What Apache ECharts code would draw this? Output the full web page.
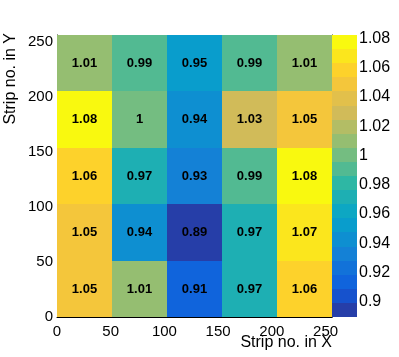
<!DOCTYPE html>
<html><head><meta charset="utf-8">
<script src="https://cdn.jsdelivr.net/npm/echarts@6/dist/echarts.min.js"></script>
<style>html,body{margin:0;padding:0;background:#fff}#c{width:399px;height:357px}</style>
</head><body><div id="c"></div>
<script>
// ---- data ----
const xEdges = [0, 51.2, 102.4, 153.6, 204.8, 256];
const yEdges = [0, 51.2, 102.4, 153.6, 204.8, 256];
// rows listed from bottom (y bin 0) to top (y bin 4)
const row0 = [1.05, 1.01, 0.91, 0.97, 1.06];
const row1 = [1.05, 0.94, 0.89, 0.97, 1.07];
const row2 = [1.06, 0.97, 0.93, 0.99, 1.08];
const row3 = [1.08, 1, 0.94, 1.03, 1.05];
const row4 = [1.01, 0.99, 0.95, 0.99, 1.01];
const xTickLabels = [0, 50, 100, 150, 200, 250];
const yTickLabels = [0, 50, 100, 150, 200, 250];
const zTickLabels = [0.9, 0.92, 0.94, 0.96, 0.98, 1, 1.02, 1.04, 1.06, 1.08];
const zMin = 0.8897, zMax = 1.0822;
const nContours = 20;
const xTitle = 'Strip no. in X';
const yTitle = 'Strip no. in Y';

// ---- ROOT kBird palette ----
const stops = [0.0000, 0.1250, 0.2500, 0.3750, 0.5000, 0.6250, 0.7500, 0.8750, 1.0000];
const R = [0.2082, 0.0592, 0.0780, 0.0232, 0.1802, 0.5301, 0.8186, 0.9956, 0.9764];
const G = [0.1664, 0.3599, 0.5041, 0.6419, 0.7178, 0.7492, 0.7328, 0.7862, 0.9832];
const B = [0.5293, 0.8684, 0.8385, 0.7914, 0.6425, 0.4662, 0.3499, 0.1968, 0.0539];
const palette = [];
for (let g = 1; g < stops.length; g++) {
  const n = Math.floor(255 * stops[g]) - Math.floor(255 * stops[g - 1]);
  for (let c = 0; c < n; c++) {
    palette.push([
      R[g - 1] + c * (R[g] - R[g - 1]) / n,
      G[g - 1] + c * (G[g] - G[g - 1]) / n,
      B[g - 1] + c * (B[g] - B[g - 1]) / n
    ]);
  }
}
function bandColor(i) {
  const idx = Math.min(palette.length - 1, Math.floor((i + 0.99) * palette.length / nContours));
  const p = palette[idx];
  return 'rgb(' + Math.round(p[0] * 255) + ',' + Math.round(p[1] * 255) + ',' + Math.round(p[2] * 255) + ')';
}
function levelOf(v) {
  let l = Math.floor(0.01 + (v - zMin) * nContours / (zMax - zMin));
  return Math.max(0, Math.min(nContours - 1, l));
}

const rows = [row0, row1, row2, row3, row4];
const cells = [];
rows.forEach((row, j) => row.forEach((v, i) => {
  cells.push([xEdges[i], xEdges[i + 1], yEdges[j], yEdges[j + 1], v]);
}));
const bands = [];
for (let i = 0; i < nContours; i++) bands.push([i]);

const minorX = [], minorY = [];
for (let v = 0; v <= 250; v += 10) { if (v % 50) { minorX.push(v); minorY.push(v); } }

const FONT = "'Liberation Sans', Arial, Helvetica, sans-serif";
const chart = echarts.init(document.getElementById('c'), null, { renderer: 'canvas' });

const axisBase = {
  type: 'value', min: 0, max: 256, splitLine: { show: false },
  axisLine: { show: true, onZero: false, lineStyle: { color: '#000', width: 1 } }
};

chart.setOption({
  animation: false,
  backgroundColor: '#fff',
  grid: [
    { left: 57, top: 35, width: 275, height: 282, outerBoundsMode: 'none', containLabel: false },
    { left: 332, top: 35, width: 25, height: 282, outerBoundsMode: 'none', containLabel: false }
  ],
  xAxis: [
    Object.assign({}, axisBase, {
      gridIndex: 0, position: 'bottom',
      axisTick: { show: true, inside: true, length: 8, customValues: xTickLabels, lineStyle: { color: '#000' } },
      axisLabel: { show: true, customValues: xTickLabels, margin: 7, color: '#000', fontSize: 15, fontFamily: FONT }
    }),
    Object.assign({}, axisBase, {
      gridIndex: 0, position: 'bottom', axisLine: { show: false },
      axisTick: { show: true, inside: true, length: 4, customValues: minorX, lineStyle: { color: '#000' } },
      axisLabel: { show: false }
    }),
    { type: 'value', gridIndex: 1, min: 0, max: 1, show: false }
  ],
  yAxis: [
    Object.assign({}, axisBase, {
      gridIndex: 0, position: 'left',
      axisTick: { show: true, inside: true, length: 8, customValues: yTickLabels, lineStyle: { color: '#000' } },
      axisLabel: { show: true, customValues: yTickLabels, margin: 4, color: '#000', fontSize: 15, fontFamily: FONT }
    }),
    Object.assign({}, axisBase, {
      gridIndex: 0, position: 'left', axisLine: { show: false },
      axisTick: { show: true, inside: true, length: 4, customValues: minorY, lineStyle: { color: '#000' } },
      axisLabel: { show: false }
    }),
    {
      type: 'value', gridIndex: 1, min: zMin, max: zMax, position: 'right',
      splitLine: { show: false },
      axisLine: { show: true, lineStyle: { color: '#000', width: 1 } },
      axisTick: { show: true, inside: true, length: 9, customValues: zTickLabels, lineStyle: { color: '#000' } },
      axisLabel: { show: true, customValues: zTickLabels, margin: 2, color: '#000', fontSize: 16, fontFamily: FONT,
        formatter: v => String(v) }
    }
  ],
  series: [
    {
      type: 'custom', xAxisIndex: 0, yAxisIndex: 0, data: cells,
      encode: { x: [0, 1], y: [2, 3] },
      renderItem: function (params, api) {
        const p0 = api.coord([api.value(0), api.value(3)]);
        const p1 = api.coord([api.value(1), api.value(2)]);
        const v = api.value(4);
        const x0 = Math.round(p0[0]), y0 = Math.round(p0[1]);
        const x1 = Math.round(p1[0]), y1 = Math.round(p1[1]);
        return {
          type: 'group', children: [
            { type: 'rect', shape: { x: x0, y: y0, width: x1 - x0, height: y1 - y0 },
              style: { fill: bandColor(levelOf(v)), stroke: null } },
            { type: 'text', z2: 10, style: { x: (x0 + x1) / 2, y: (y0 + y1) / 2, text: String(v),
              fill: '#000', font: 'bold 13px ' + FONT, align: 'center', verticalAlign: 'middle' } }
          ]
        };
      }
    },
    {
      type: 'custom', xAxisIndex: 2, yAxisIndex: 2, data: bands,
      encode: { y: 0 },
      renderItem: function (params, api) {
        const i = api.value(0);
        const step = (zMax - zMin) / nContours;
        const p0 = api.coord([0, zMin + (i + 1) * step]);
        const p1 = api.coord([1, zMin + i * step]);
        const x0 = Math.round(p0[0]), y0 = Math.round(p0[1]);
        const x1 = Math.round(p1[0]), y1 = Math.round(p1[1]);
        return { type: 'rect', shape: { x: x0, y: y0, width: x1 - x0, height: y1 - y0 },
          style: { fill: bandColor(i), stroke: null } };
      }
    }
  ],
  graphic: [
    { type: 'text', right: 399 - 332, top: 335, style: { text: xTitle, fill: '#000', font: '16px ' + FONT } },
    { type: 'text', x: 11, y: 33, rotation: Math.PI / 2,
      style: { text: yTitle, fill: '#000', font: '16px ' + FONT, align: 'right', verticalAlign: 'middle' } }
  ]
});
</script>
</body></html>
